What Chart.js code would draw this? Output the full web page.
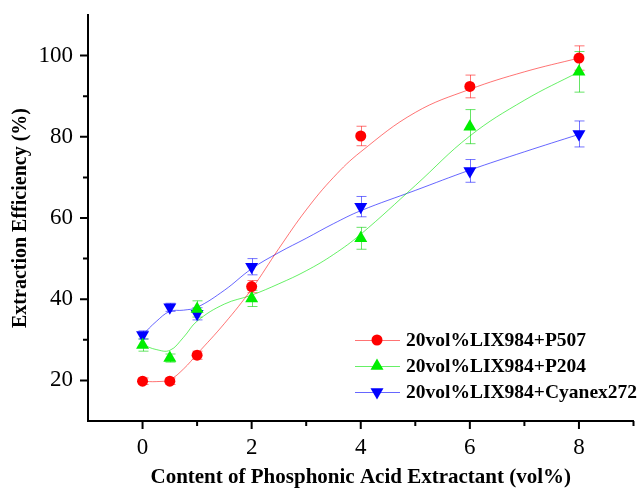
<!DOCTYPE html>
<html>
<head>
<meta charset="utf-8">
<script src="https://cdn.jsdelivr.net/npm/chart.js@4/dist/chart.umd.min.js"></script>
<style>
  html, body { margin: 0; padding: 0; background: #fff; }
  canvas { display: block; }
</style>
</head>
<body>
<canvas id="chart" width="641" height="489"></canvas>
<script>
// Phosphonic acid extractant content (vol%) for each measurement
const contents = [0, 0.5, 1, 2, 4, 6, 8];

// Measured extraction efficiency (%) and error bar half-widths
const p507 = [19.8, 19.8, 26.2, 43.1, 80.2, 92.4, 99.4];
const p507Err = [0.8, 0.8, 1.0, 1.5, 2.4, 2.8, 3.0];
const p204 = [28.7, 25.5, 37.6, 40.2, 55.0, 82.5, 96.0];
const p204Err = [1.5, 1.0, 2.0, 2.0, 2.7, 4.2, 5.0];
const cyanex = [31.2, 38.0, 36.4, 48.0, 62.8, 71.6, 80.7];
const cyanexErr = [1.0, 1.0, 1.5, 2.0, 2.5, 2.8, 3.2];

// Fitted trend curves for each system
const fitX = [0, 0.25, 0.5, 0.75, 1, 1.5, 2, 2.5, 3, 3.5, 4, 5, 6, 7, 8];
const p507Fit = [19.8, 19.7, 20.2, 22.8, 26.5, 34.0, 42.5, 52.5, 62.0, 70.0, 76.3, 86.0, 91.7, 96.0, 99.4];
const p204Fit = [28.8, 27.6, 27.4, 30.6, 34.6, 38.8, 41.0, 43.8, 47.0, 51.0, 56.0, 68.0, 80.2, 89.0, 96.0];
const cyanexFit = [31.2, 34.5, 37.0, 37.3, 38.0, 42.2, 47.5, 51.5, 55.0, 58.6, 61.8, 66.8, 71.8, 76.3, 80.6];

// Axis ticks
const xTicks = [0, 2, 4, 6, 8];
const xMinorTicks = [1, 3, 5, 7, 9];
const yTicks = [20, 40, 60, 80, 100];
const yMinorTicks = [30, 50, 70, 90];

const seriesNames = ['20vol%LIX984+P507', '20vol%LIX984+P204', '20vol%LIX984+Cyanex272'];
const xTitle = 'Content of Phosphonic Acid Extractant (vol%)';
const yTitle = 'Extraction Efficiency (%)';

const FONT = '"Liberation Serif", "Times New Roman", serif';

const styles = [
  { color: '#ff0000', line: 'rgba(255,0,0,0.55)', err: 'rgba(255,0,0,0.55)', pointStyle: 'circle', radius: 5.5, rotation: 0 },
  { color: '#00ee00', line: 'rgba(0,230,0,0.6)', err: 'rgba(0,210,0,0.6)', pointStyle: 'triangle', radius: 7.5, rotation: 0 },
  { color: '#0000ff', line: 'rgba(0,0,255,0.6)', err: 'rgba(0,0,255,0.55)', pointStyle: 'triangle', radius: 7.5, rotation: 180 }
];

const measured = [p507, p204, cyanex];
const errors = [p507Err, p204Err, cyanexErr];
const fits = [p507Fit, p204Fit, cyanexFit];

const toPoints = (xs, ys) => xs.map((x, i) => ({ x, y: ys[i] }));

const datasets = [];
fits.forEach((f, i) => {
  datasets.push({
    label: seriesNames[i] + ' fit',
    data: toPoints(fitX, f),
    showLine: true,
    borderColor: styles[i].line,
    borderWidth: 1,
    pointRadius: 0,
    tension: 0.4,
    fill: false,
    order: 5
  });
});
measured.forEach((m, i) => {
  datasets.push({
    label: seriesNames[i],
    data: toPoints(contents, m),
    showLine: false,
    pointStyle: styles[i].pointStyle,
    pointRotation: styles[i].rotation,
    pointRadius: styles[i].radius,
    pointBackgroundColor: styles[i].color,
    pointBorderColor: styles[i].color,
    pointBorderWidth: 0,
    order: 1
  });
});

// Error bars with caps, drawn under the markers
const errorBars = {
  id: 'errorBars',
  beforeDatasetsDraw(chart) {
    const { ctx, scales: { x, y } } = chart;
    ctx.save();
    ctx.lineWidth = 1;
    measured.forEach((m, i) => {
      ctx.strokeStyle = styles[i].err;
      m.forEach((v, j) => {
        const px = Math.round(x.getPixelForValue(contents[j])) + 0.5;
        const top = y.getPixelForValue(v + errors[i][j]);
        const bot = y.getPixelForValue(v - errors[i][j]);
        ctx.beginPath();
        ctx.moveTo(px, top); ctx.lineTo(px, bot);
        ctx.moveTo(px - 5, top); ctx.lineTo(px + 5, top);
        ctx.moveTo(px - 5, bot); ctx.lineTo(px + 5, bot);
        ctx.stroke();
      });
    });
    ctx.restore();
  }
};

// Tick marks, axis titles and legend
const decorations = {
  id: 'decorations',
  afterDraw(chart) {
    const { ctx, chartArea: a, scales: { x, y } } = chart;
    ctx.save();
    ctx.strokeStyle = '#000';
    ctx.lineWidth = 2;
    ctx.beginPath();
    xTicks.forEach(v => { const p = x.getPixelForValue(v); ctx.moveTo(p, a.bottom); ctx.lineTo(p, a.bottom + 8); });
    xMinorTicks.forEach(v => { const p = x.getPixelForValue(v); ctx.moveTo(p, a.bottom); ctx.lineTo(p, a.bottom + 5); });
    yTicks.forEach(v => { const p = y.getPixelForValue(v); ctx.moveTo(a.left, p); ctx.lineTo(a.left - 8, p); });
    yMinorTicks.forEach(v => { const p = y.getPixelForValue(v); ctx.moveTo(a.left, p); ctx.lineTo(a.left - 5, p); });
    ctx.stroke();

    // axis titles
    ctx.fillStyle = '#000';
    ctx.font = 'bold 21px ' + FONT;
    ctx.textAlign = 'center';
    ctx.textBaseline = 'middle';
    ctx.fillText(xTitle, (a.left + a.right) / 2, 478);
    ctx.save();
    ctx.translate(21, (a.top + a.bottom) / 2);
    ctx.rotate(-Math.PI / 2);
    ctx.font = 'bold 20px ' + FONT;
    ctx.fillText(yTitle, 0, 0);
    ctx.restore();

    // legend
    const rows = [340, 366, 392];
    ctx.font = 'bold 19.5px ' + FONT;
    ctx.textAlign = 'left';
    rows.forEach((ry, i) => {
      ctx.strokeStyle = styles[i].line;
      ctx.lineWidth = 1;
      ctx.beginPath();
      ctx.moveTo(355, ry + 0.5); ctx.lineTo(400, ry + 0.5);
      ctx.stroke();
      ctx.fillStyle = styles[i].color;
      ctx.strokeStyle = styles[i].color;
      Chart.helpers.drawPoint(ctx, {
        pointStyle: styles[i].pointStyle,
        radius: styles[i].radius,
        rotation: styles[i].rotation,
        borderWidth: 0
      }, 377, ry);
      ctx.fillStyle = '#000';
      ctx.fillText(seriesNames[i], 406, ry + 1);
    });
    ctx.restore();
  }
};

new Chart(document.getElementById('chart'), {
  type: 'scatter',
  data: { datasets },
  options: {
    responsive: false,
    animation: false,
    devicePixelRatio: 1,
    layout: { padding: { top: 15, right: 4, left: 0, bottom: 0 } },
    plugins: { legend: { display: false }, tooltip: { enabled: false } },
    scales: {
      x: {
        type: 'linear', min: -1, max: 9,
        afterBuildTicks: s => { s.ticks = xTicks.map(v => ({ value: v })); },
        afterFit: s => { s.height = 68; s.paddingLeft = 0; s.paddingRight = 0; },
        grid: { display: false, drawTicks: true, tickLength: 8 },
        border: { display: true, color: '#000', width: 2 },
        ticks: { color: '#000', font: { family: FONT, size: 23 }, padding: 5, maxRotation: 0 }
      },
      y: {
        type: 'linear', min: 10, max: 110,
        afterBuildTicks: s => { s.ticks = yTicks.map(v => ({ value: v })); },
        afterFit: s => { s.width = 88; s.paddingTop = 0; s.paddingBottom = 0; },
        grid: { display: false, drawTicks: true, tickLength: 8 },
        border: { display: true, color: '#000', width: 2 },
        ticks: { color: '#000', font: { family: FONT, size: 23 }, padding: 7 }
      }
    }
  },
  plugins: [errorBars, decorations]
});
</script>
</body>
</html>
